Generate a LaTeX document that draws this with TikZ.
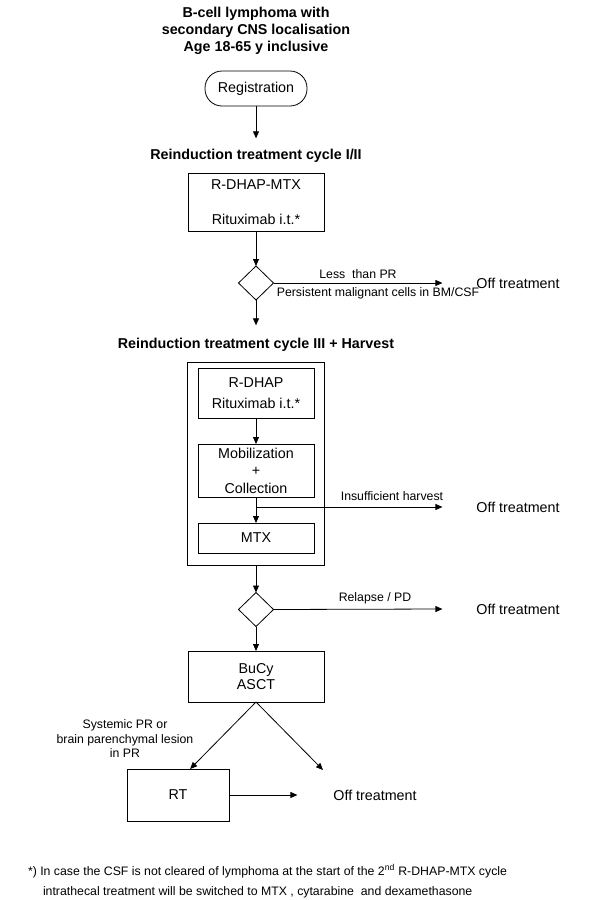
\documentclass[tikz,border=0pt]{standalone}
\usepackage{fontspec}
\setmainfont{Liberation Sans}
\usetikzlibrary{shapes.geometric,arrows.meta}

\begin{document}
\begin{tikzpicture}[x=1pt,y=-1pt,
  every node/.style={inner sep=0pt, outer sep=0pt},
  >={Triangle[length=7pt,width=6pt]},
  every path/.style={line width=0.8pt},
  head/.style={font=\fontsize{14.3}{17}\selectfont\bfseries, align=center},
  box/.style={draw, rectangle, align=center, font=\fontsize{14.3}{17}\selectfont},
  decide/.style={draw, diamond, minimum width=35pt, minimum height=34pt},
  off/.style={font=\fontsize{14.3}{17}\selectfont},
  lbl/.style={font=\fontsize{12.3}{14.5}\selectfont, align=center},
  note/.style={font=\fontsize{12.3}{14}\selectfont, anchor=west}]
\useasboundingbox (0,0) rectangle (589,900);

% header and registration
\node[head] (title) at (256,30.5) {B-cell lymphoma with\\secondary CNS localisation\\Age 18-65 y inclusive};
\node[box, rounded corners=17pt, minimum width=102pt, minimum height=35pt] (reg) at (256,88.5) {Registration};

% cycle I/II
\node[head] (head1) at (256,156) {Reinduction treatment cycle I/II};
\node[box, minimum width=136pt, minimum height=58pt] (cyc12) at (256,202) {R-DHAP-MTX\\[18pt]Rituximab i.t.*};
\node[decide] (dec1) at (256,283) {};
\node[off] (off1) at (518,283) {Off treatment};
\node[lbl] (lessPR) at (358,274) {Less\ \ than PR};
\node[lbl] (persist) at (378,293) {Persistent malignant cells in BM/CSF};

% cycle III + harvest
\node[head] (head2) at (256,345) {Reinduction treatment cycle III + Harvest};
\node[box, minimum width=137pt, minimum height=203pt] (harvest) at (256,463.5) {};
\node[box, minimum width=116pt, minimum height=50pt] (rdhap) at (256,393) {R-DHAP\\[4pt]Rituximab i.t.*};
\node[box, minimum width=116pt, minimum height=53pt] (mob) at (256,470.5) {Mobilization\\[0.5pt]+\\[0.5pt]Collection};
\node[box, minimum width=116pt, minimum height=30pt] (mtx) at (256,538) {MTX};
\coordinate (split) at (256,507);
\node[off] (off2) at (518,507) {Off treatment};
\node[lbl] (insuff) at (392,496) {Insufficient harvest};

% transplant
\node[decide] (dec2) at (256,609.5) {};
\node[off] (off3) at (518,609) {Off treatment};
\node[lbl] (relapse) at (375,598) {Relapse / PD};
\node[box, minimum width=136pt, minimum height=51pt] (bucy) at (256,676.5) {BuCy\\[-1pt]ASCT};
\node[lbl] (systemic) at (125,739) {Systemic PR or\\brain parenchymal lesion\\in PR};
\node[box, minimum width=102pt, minimum height=52pt] (rt) at (178,795) {RT};
\node[off] (off4) at (375,795) {Off treatment};
\coordinate (offend) at (323,770);

% footnote
\node[note] (fn1) at (28,871) {*) In case the CSF is not cleared of lymphoma at the start of the 2\textsuperscript{nd} R-DHAP-MTX cycle};
\node[note] (fn2) at (43,892) {intrathecal treatment will be switched to MTX , cytarabine\ \ and dexamethasone};

% connectors
\draw[->] (reg.south) -- ([yshift=11pt]head1.north);
\draw[->] (cyc12) -- (dec1);
\draw[->] (dec1.east) -- ([xshift=-34pt]off1.west);
\draw[->] (dec1.south) -- ([yshift=13pt]head2.north);
\draw[->] (rdhap) -- (mob);
\draw[->] (mob) -- (mtx);
\draw[->] (split) -- ([xshift=-34pt]off2.west);
\draw[->] (harvest) -- (dec2);
\draw[->] (dec2.east) -- ([xshift=-34pt]off3.west);
\draw[->] (dec2) -- (bucy);
\draw[->] (bucy.south) -- (rt.65);
\draw[->] (bucy.south) -- (offend);
\draw[->] (rt.east) -- ([xshift=-36pt]off4.west);
\end{tikzpicture}
\end{document}
